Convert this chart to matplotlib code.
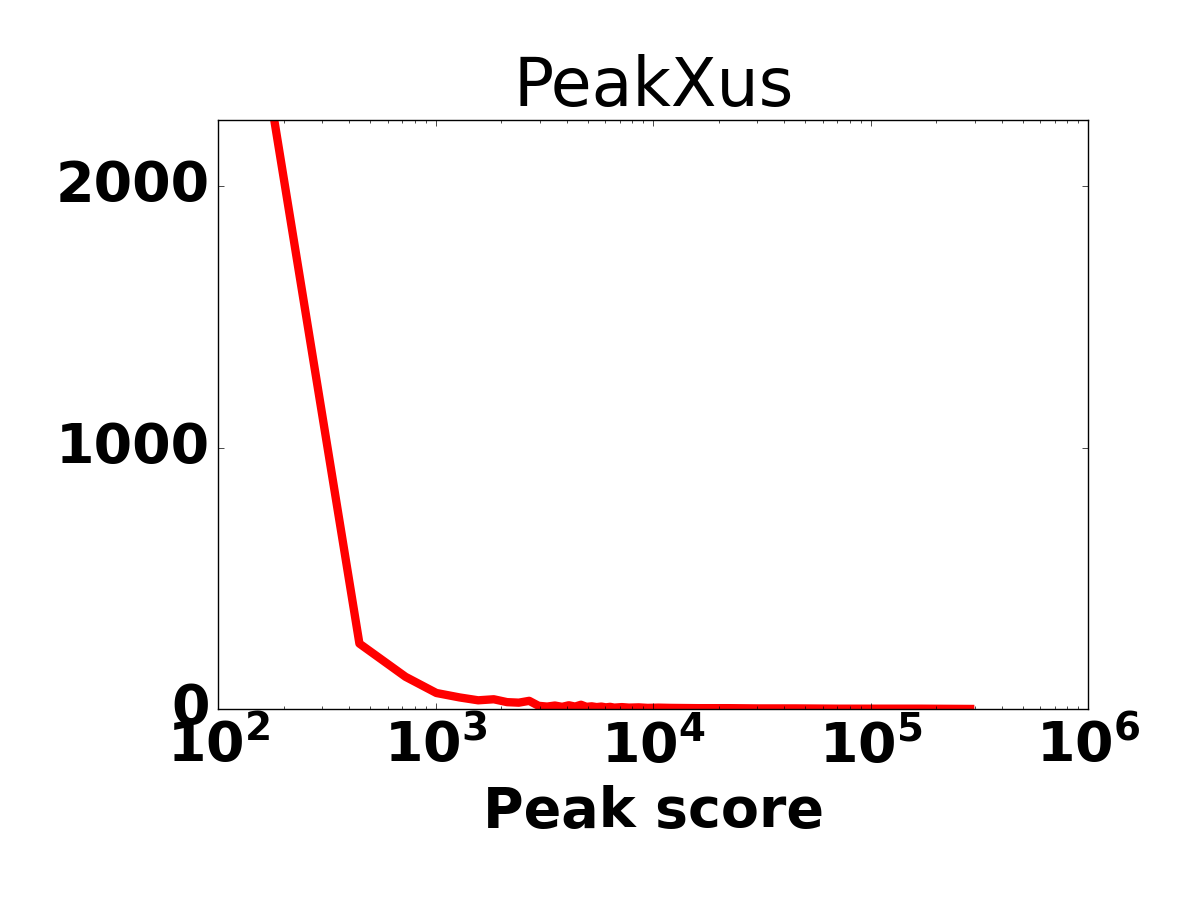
import matplotlib
matplotlib.use("Agg")
import matplotlib.pyplot as plt

plt.style.use('classic')

# histogram of peak scores (bin centres, counts)
scores = [165, 445, 725, 1005, 1285, 1565, 1845, 2125, 2405, 2685,
          2965, 3245, 3525, 3805, 4085, 4365, 4645, 4925, 5205, 5485,
          5765, 6045, 6325, 6605, 7165, 7725, 8565, 9405, 10525,
          12000, 16000, 22000, 30000, 45000, 70000, 110000, 170000, 286000]
counts = [2455, 251, 124, 62, 45, 34, 38, 27, 25, 32,
          13, 10, 14, 9, 15, 10, 17, 9, 11, 8,
          10, 7, 9, 6, 8, 6, 7, 5, 6,
          5, 4, 4, 3, 3, 2, 2, 2, 1]

fig = plt.figure(figsize=(12, 9), dpi=100)
ax = fig.add_axes([0.182, 0.212, 0.725, 0.655])

ax.plot(scores, counts, color='red', linewidth=6)
ax.set_xscale('log')
ax.set_xlim(1e2, 1e6)
ax.set_ylim(0, 2255)
ax.set_yticks([0, 1000, 2000])

ax.set_title('PeakXus', fontsize=48, fontweight='normal', pad=10)
ax.set_xlabel('Peak score', fontsize=40, fontweight='bold', labelpad=8)
for lab in ax.get_xticklabels() + ax.get_yticklabels():
    lab.set_fontsize(40)
    lab.set_fontweight('bold')
ax.tick_params(axis='y', pad=6)
ax.tick_params(axis='x', pad=6)

fig.savefig('out.png', dpi=100)
